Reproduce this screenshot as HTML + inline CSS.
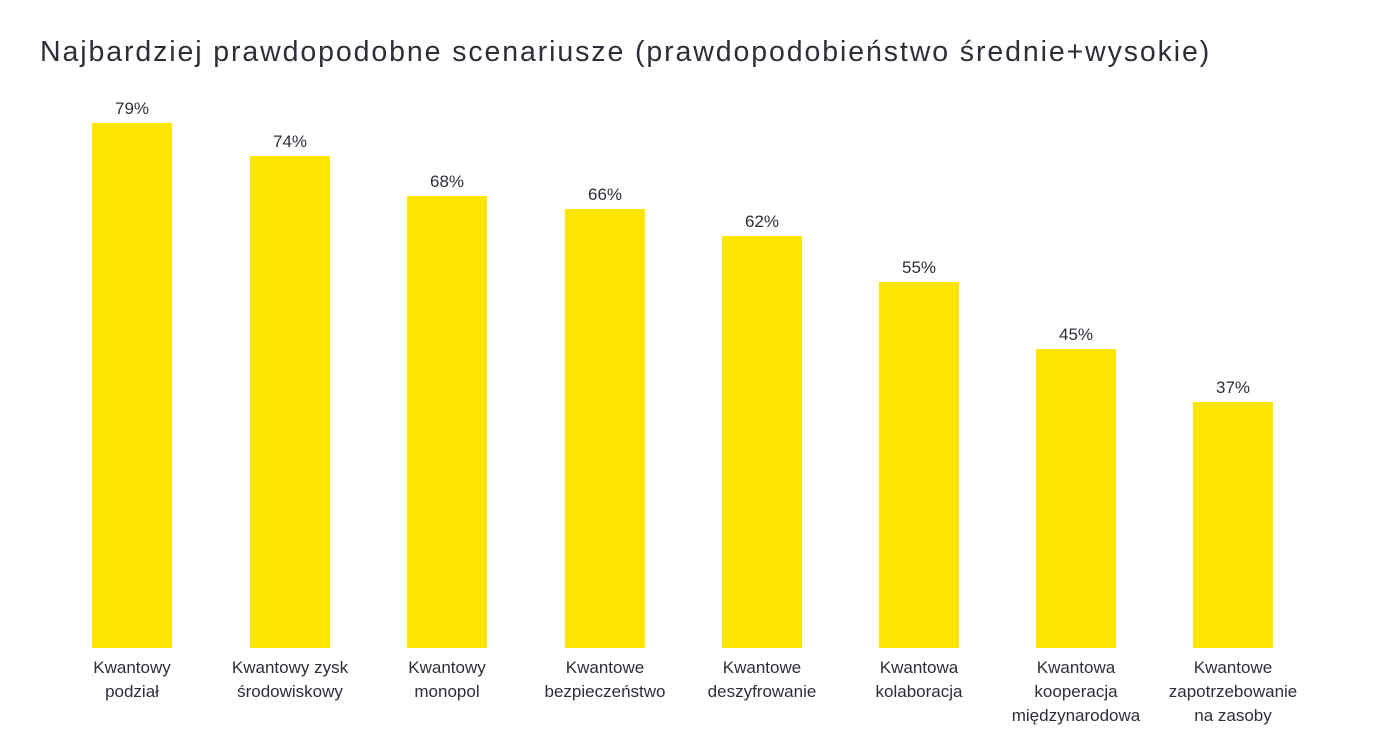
<!DOCTYPE html>
<html><head><meta charset="utf-8"><style>
body{margin:0;width:1384px;height:729px;background:#fff;overflow:hidden;font-family:"Liberation Sans","DejaVu Sans",sans-serif;color:#2e2e38;position:relative}
.t{position:absolute;left:40px;top:36px;font-size:28.5px;letter-spacing:1.9px;white-space:nowrap}
.b{position:absolute;background:#ffe600;width:80px}
.v{position:absolute;width:120px;text-align:center;font-size:17px}
.l{position:absolute;width:180px;text-align:center;font-size:17px;line-height:24px;top:656px}
</style></head><body>
<div class="t">Najbardziej prawdopodobne scenariusze (prawdopodobieństwo średnie+wysokie)</div>
<div class="b" style="left:92px;top:123px;height:525px"></div><div class="v" style="left:72px;top:99px">79%</div>
<div class="b" style="left:250px;top:156px;height:492px"></div><div class="v" style="left:230px;top:132px">74%</div>
<div class="b" style="left:407px;top:196px;height:452px"></div><div class="v" style="left:387px;top:172px">68%</div>
<div class="b" style="left:565px;top:209px;height:439px"></div><div class="v" style="left:545px;top:185px">66%</div>
<div class="b" style="left:722px;top:236px;height:412px"></div><div class="v" style="left:702px;top:212px">62%</div>
<div class="b" style="left:879px;top:282px;height:366px"></div><div class="v" style="left:859px;top:258px">55%</div>
<div class="b" style="left:1036px;top:349px;height:299px"></div><div class="v" style="left:1016px;top:325px">45%</div>
<div class="b" style="left:1193px;top:402px;height:246px"></div><div class="v" style="left:1173px;top:378px">37%</div>
<div class="l" style="left:42px">Kwantowy<br>podział</div>
<div class="l" style="left:200px">Kwantowy zysk<br>środowiskowy</div>
<div class="l" style="left:357px">Kwantowy<br>monopol</div>
<div class="l" style="left:515px">Kwantowe<br>bezpieczeństwo</div>
<div class="l" style="left:672px">Kwantowe<br>deszyfrowanie</div>
<div class="l" style="left:829px">Kwantowa<br>kolaboracja</div>
<div class="l" style="left:986px">Kwantowa<br>kooperacja<br>międzynarodowa</div>
<div class="l" style="left:1143px">Kwantowe<br>zapotrzebowanie<br>na zasoby</div>
</body></html>
